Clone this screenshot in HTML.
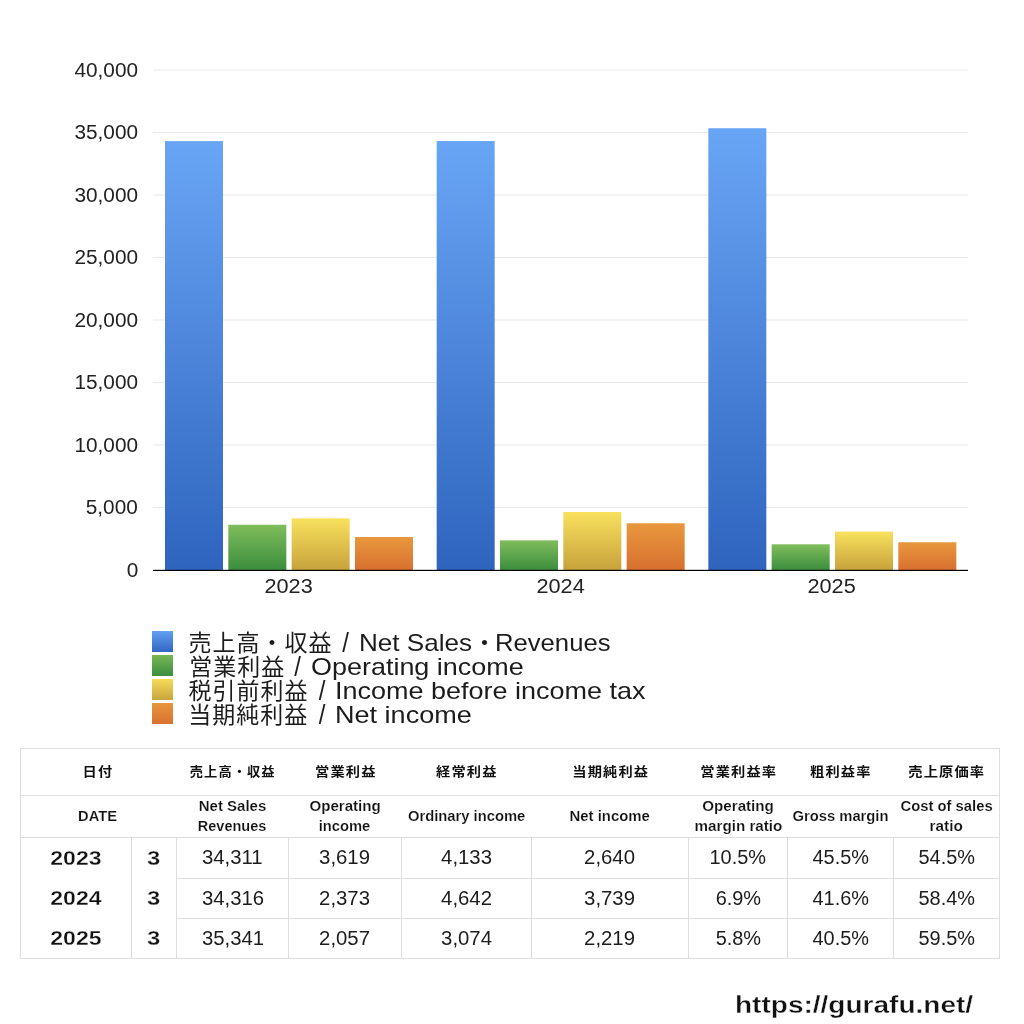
<!DOCTYPE html>
<html lang="ja">
<head>
<meta charset="utf-8">
<title>業績推移 / Net Sales・Revenues</title>
<style>
html,body{margin:0;padding:0;background:#fff;}
body{width:1024px;height:1024px;position:relative;overflow:hidden;font-family:"Liberation Sans", "Noto Sans CJK JP", sans-serif;color:#1c1c1c;}
.t{display:inline-block;white-space:nowrap;}
#chart{position:absolute;left:0;top:0;}
.ylab{position:absolute;right:886px;height:20px;line-height:20px;font-size:20.3px;text-align:right;white-space:nowrap;color:#222;}
.ylab .t{transform-origin:right center;}
.xlab{position:absolute;width:120px;height:20px;line-height:20px;font-size:20.3px;text-align:center;white-space:nowrap;color:#222;}
.leg{position:absolute;left:152px;height:24px;white-space:nowrap;}
.leg .sl{transform:scale(1,1.17);transform-origin:left 18%;}
.leg i{position:absolute;left:0;top:0;width:21px;height:21px;display:block;}
.leg .lt{position:absolute;top:-0.5px;height:24px;line-height:24px;font-size:24px;color:#1c1c1c;transform-origin:left center;}
.leg .lt.cj{font-size:23px;letter-spacing:1px;}
table{position:absolute;left:20px;top:748px;border-collapse:collapse;table-layout:fixed;width:980px;}
td,th{padding:0;margin:0;text-align:center;vertical-align:middle;font-weight:normal;overflow:visible;white-space:nowrap;}
table{border:1px solid #dedede;}
tr.h1 th{height:46px;border-bottom:1px solid #dedede;font-weight:bold;font-size:12.9px;letter-spacing:1px;color:#111;}
tr.h1 th .t{margin-right:-1px;position:relative;top:-2px;}
tr.h2 th{-webkit-text-stroke:0.15px #fff;height:41px;border-bottom:1px solid #dedede;font-weight:bold;font-size:14px;line-height:20px;color:#111;}
tr.h2 th .t{position:relative;top:-1px;}
th.f{padding-right:3px;}
tr.d td{height:39px;font-size:19.6px;color:#1c1c1c;border-left:1px solid #dedede;border-top:1px solid #dedede;}
tr.d1 td{height:40px;}
tr.d td.y{-webkit-text-stroke:0.3px #fff;font-weight:bold;font-size:20.6px;color:#111;border-left:none;border-top:none;}
tr.d td .t{position:relative;}
tr.d1 td .t{top:-1px;}
tr.d1 td.y .t,tr.d1 td.m .t{top:0;}
tr.d2 td.y .t,tr.d2 td.m .t{top:-1px;}
tr.d td.m{-webkit-text-stroke:0.3px #fff;font-weight:bold;font-size:20.6px;color:#111;border-top:none;}
.url{-webkit-text-stroke:0.35px #fff;position:absolute;left:735px;top:990px;height:30px;line-height:30px;font-size:24px;font-weight:bold;color:#111;white-space:nowrap;}
.url .t{transform-origin:left center;}
</style>
</head>
<body>
<svg id="chart" width="1024" height="620" viewBox="0 0 1024 620">
<defs>
<linearGradient id="gb" x1="0" y1="0" x2="0" y2="1"><stop offset="0" stop-color="#69a5f5"/><stop offset="1" stop-color="#2e64be"/></linearGradient>
<linearGradient id="gg" x1="0" y1="0" x2="0" y2="1"><stop offset="0" stop-color="#80bd5b"/><stop offset="1" stop-color="#3b8d3e"/></linearGradient>
<linearGradient id="gy" x1="0" y1="0" x2="0" y2="1"><stop offset="0" stop-color="#f8e15e"/><stop offset="1" stop-color="#c7a23b"/></linearGradient>
<linearGradient id="go" x1="0" y1="0" x2="0" y2="1"><stop offset="0" stop-color="#e8983e"/><stop offset="1" stop-color="#d8702f"/></linearGradient>
</defs>
<rect x="153" y="69.5" width="815" height="1" fill="#e9e9e9"/>
<rect x="153" y="132" width="815" height="1" fill="#e9e9e9"/>
<rect x="153" y="194.5" width="815" height="1" fill="#e9e9e9"/>
<rect x="153" y="257" width="815" height="1" fill="#e9e9e9"/>
<rect x="153" y="319.5" width="815" height="1" fill="#e9e9e9"/>
<rect x="153" y="382" width="815" height="1" fill="#e9e9e9"/>
<rect x="153" y="444.5" width="815" height="1" fill="#e9e9e9"/>
<rect x="153" y="507" width="815" height="1" fill="#e9e9e9"/>
<rect x="165.00" y="141.11" width="58" height="428.89" fill="url(#gb)"/>
<rect x="228.33" y="524.76" width="58" height="45.24" fill="url(#gg)"/>
<rect x="291.66" y="518.34" width="58" height="51.66" fill="url(#gy)"/>
<rect x="354.99" y="537.00" width="58" height="33.00" fill="url(#go)"/>
<rect x="436.67" y="141.05" width="58" height="428.95" fill="url(#gb)"/>
<rect x="500.00" y="540.34" width="58" height="29.66" fill="url(#gg)"/>
<rect x="563.33" y="511.98" width="58" height="58.03" fill="url(#gy)"/>
<rect x="626.66" y="523.26" width="58" height="46.74" fill="url(#go)"/>
<rect x="708.33" y="128.24" width="58" height="441.76" fill="url(#gb)"/>
<rect x="771.66" y="544.29" width="58" height="25.71" fill="url(#gg)"/>
<rect x="834.99" y="531.58" width="58" height="38.43" fill="url(#gy)"/>
<rect x="898.32" y="542.26" width="58" height="27.74" fill="url(#go)"/>
<rect x="153" y="569.8" width="815" height="1.2" fill="#000"/>
</svg>
<div class="ylab" style="top:60px"><span class="t" id="yl0" style="transform:scaleX(1.0246)">40,000</span></div>
<div class="ylab" style="top:122px"><span class="t" id="yl1" style="transform:scaleX(1.0246)">35,000</span></div>
<div class="ylab" style="top:185px"><span class="t" id="yl2" style="transform:scaleX(1.0246)">30,000</span></div>
<div class="ylab" style="top:247px"><span class="t" id="yl3" style="transform:scaleX(1.0246)">25,000</span></div>
<div class="ylab" style="top:310px"><span class="t" id="yl4" style="transform:scaleX(1.0246)">20,000</span></div>
<div class="ylab" style="top:372px"><span class="t" id="yl5" style="transform:scaleX(1.0246)">15,000</span></div>
<div class="ylab" style="top:435px"><span class="t" id="yl6" style="transform:scaleX(1.0246)">10,000</span></div>
<div class="ylab" style="top:497px"><span class="t" id="yl7" style="transform:scaleX(1.0246)">5,000</span></div>
<div class="ylab" style="top:560px"><span class="t" id="yl8" style="transform:scaleX(1.0246)">0</span></div>
<div class="xlab" style="left:228.4px;top:575.5px"><span class="t" id="xl0" style="transform:scaleX(1.0698)">2023</span></div>
<div class="xlab" style="left:500.1px;top:575.5px"><span class="t" id="xl1" style="transform:scaleX(1.0698)">2024</span></div>
<div class="xlab" style="left:771.8px;top:575.5px"><span class="t" id="xl2" style="transform:scaleX(1.0698)">2025</span></div>
<div class="leg" style="top:631px"><i style="background:linear-gradient(#62a0f0,#3166c4)"></i><span class="t lt cj" id="lgc0" style="left:36.5px">売上高・収益</span><span class="t lt sl" id="lgs0" style="left:190.3px">/</span><span class="t lt" id="lgl0" style="left:206.63px;transform:scaleX(1.0871)">Net Sales</span><span class="t lt" id="lgd0" style="left:320.6px">・</span><span class="t lt" id="lgl0b" style="left:343.46px;transform:scaleX(1.0686)">Revenues</span></div>
<div class="leg" style="top:655px"><i style="background:linear-gradient(#78b755,#3c8e3e)"></i><span class="t lt cj" id="lgc1" style="left:37.25px">営業利益</span><span class="t lt sl" id="lgs1" style="left:142.25px">/</span><span class="t lt" id="lgl1" style="left:159.38px;transform:scaleX(1.1230)">Operating income</span></div>
<div class="leg" style="top:679px"><i style="background:linear-gradient(#f5dc59,#c8a53c)"></i><span class="t lt cj" id="lgc2" style="left:36.5px">税引前利益</span><span class="t lt sl" id="lgs2" style="left:166.75px">/</span><span class="t lt" id="lgl2" style="left:182.75px;transform:scaleX(1.1241)">Income before income tax</span></div>
<div class="leg" style="top:703px"><i style="background:linear-gradient(#e7953c,#d8722f)"></i><span class="t lt cj" id="lgc3" style="left:36.25px">当期純利益</span><span class="t lt sl" id="lgs3" style="left:166.75px">/</span><span class="t lt" id="lgl3" style="left:182.75px;transform:scaleX(1.1271)">Net income</span></div>
<table>
<colgroup><col style="width:111px"><col style="width:45px"><col style="width:112px"><col style="width:113px"><col style="width:130px"><col style="width:157px"><col style="width:99px"><col style="width:106px"><col style="width:106px"></colgroup>
<tr class="h1"><th colspan="2" class="f"><span class="t" id="ha0" style="transform:scaleX(1.1050)">日付</span></th><th><span class="t" id="ha1" style="transform:scaleX(1.0278)">売上高・収益</span></th><th><span class="t" id="ha2" style="transform:scaleX(1.1050)">営業利益</span></th><th><span class="t" id="ha3" style="transform:scaleX(1.1050)">経常利益</span></th><th><span class="t" id="ha4" style="transform:scaleX(1.1050)">当期純利益</span></th><th><span class="t" id="ha5" style="transform:scaleX(1.1050)">営業利益率</span></th><th><span class="t" id="ha6" style="transform:scaleX(1.1050)">粗利益率</span></th><th><span class="t" id="ha7" style="transform:scaleX(1.1050)">売上原価率</span></th></tr>
<tr class="h2"><th colspan="2" class="f"><span class="t" id="hb0_0" style="transform:scaleX(1.0500)">DATE</span></th><th><span class="t" id="hb1_0" style="transform:scaleX(1.0697)">Net Sales</span><br><span class="t" id="hb1_1" style="transform:scaleX(1.0346)">Revenues</span></th><th><span class="t" id="hb2_0" style="transform:scaleX(1.0781)">Operating</span><br><span class="t" id="hb2_1" style="transform:scaleX(1.0532)">income</span></th><th><span class="t" id="hb3_0" style="transform:scaleX(1.0545)">Ordinary income</span></th><th><span class="t" id="hb4_0" style="transform:scaleX(1.0642)">Net income</span></th><th><span class="t" id="hb5_0" style="transform:scaleX(1.0820)">Operating</span><br><span class="t" id="hb5_1" style="transform:scaleX(1.0854)">margin ratio</span></th><th><span class="t" id="hb6_0" style="transform:scaleX(1.0534)">Gross margin</span></th><th><span class="t" id="hb7_0" style="transform:scaleX(1.0581)">Cost of sales</span><br><span class="t" id="hb7_1" style="transform:scaleX(1.0948)">ratio</span></th></tr>
<tr class="d d1"><td class="y"><span class="t" id="d0_0" style="transform:scaleX(1.1193)">2023</span></td><td class="m"><span class="t" id="d0_1" style="transform:scaleX(1.1600)">3</span></td><td><span class="t" id="d0_2" style="transform:scaleX(1.0373)">34,311</span></td><td><span class="t" id="d0_3" style="transform:scaleX(1.0373)">3,619</span></td><td><span class="t" id="d0_4" style="transform:scaleX(1.0373)">4,133</span></td><td><span class="t" id="d0_5" style="transform:scaleX(1.0373)">2,640</span></td><td><span class="t" id="d0_6" style="transform:scaleX(1.0167)">10.5%</span></td><td><span class="t" id="d0_7" style="transform:scaleX(1.0167)">45.5%</span></td><td><span class="t" id="d0_8" style="transform:scaleX(1.0167)">54.5%</span></td></tr>
<tr class="d d2"><td class="y"><span class="t" id="d1_0" style="transform:scaleX(1.1193)">2024</span></td><td class="m"><span class="t" id="d1_1" style="transform:scaleX(1.1600)">3</span></td><td><span class="t" id="d1_2" style="transform:scaleX(1.0373)">34,316</span></td><td><span class="t" id="d1_3" style="transform:scaleX(1.0373)">2,373</span></td><td><span class="t" id="d1_4" style="transform:scaleX(1.0373)">4,642</span></td><td><span class="t" id="d1_5" style="transform:scaleX(1.0373)">3,739</span></td><td><span class="t" id="d1_6" style="transform:scaleX(1.0167)">6.9%</span></td><td><span class="t" id="d1_7" style="transform:scaleX(1.0167)">41.6%</span></td><td><span class="t" id="d1_8" style="transform:scaleX(1.0167)">58.4%</span></td></tr>
<tr class="d d3"><td class="y"><span class="t" id="d2_0" style="transform:scaleX(1.1193)">2025</span></td><td class="m"><span class="t" id="d2_1" style="transform:scaleX(1.1600)">3</span></td><td><span class="t" id="d2_2" style="transform:scaleX(1.0373)">35,341</span></td><td><span class="t" id="d2_3" style="transform:scaleX(1.0373)">2,057</span></td><td><span class="t" id="d2_4" style="transform:scaleX(1.0373)">3,074</span></td><td><span class="t" id="d2_5" style="transform:scaleX(1.0373)">2,219</span></td><td><span class="t" id="d2_6" style="transform:scaleX(1.0167)">5.8%</span></td><td><span class="t" id="d2_7" style="transform:scaleX(1.0167)">40.5%</span></td><td><span class="t" id="d2_8" style="transform:scaleX(1.0167)">59.5%</span></td></tr>
</table>
<div class="url"><span class="t" id="url" style="transform:scaleX(1.1672)">https://gurafu.net/</span></div>
</body>
</html>
